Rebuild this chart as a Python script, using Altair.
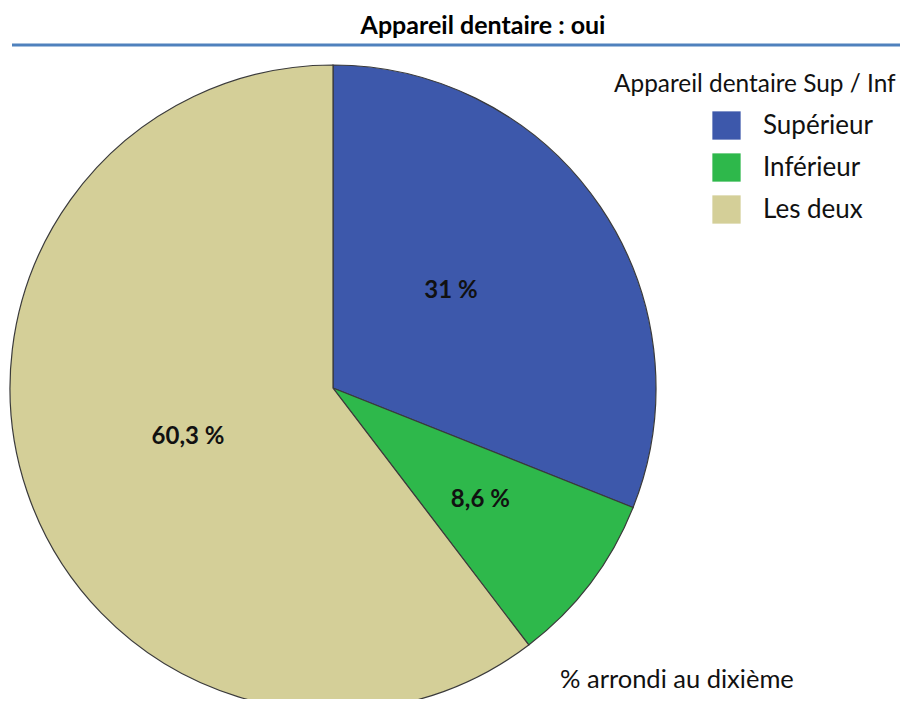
import altair as alt
import pandas as pd

categories = ["Supérieur", "Inférieur", "Les deux"]
values = [31.0, 8.6, 60.3]
labels = ["31 %", "8,6 %", "60,3 %"]
colors = ["#3D58AB", "#2EB84B", "#D4CF98"]
order_idx = [0, 1, 2]

title_text = "Appareil dentaire : oui"
legend_title = "Appareil dentaire Sup / Inf"
footnote = "% arrondi au dixième"

df = pd.DataFrame({"cat": categories, "value": values, "label": labels, "idx": order_idx})
one = pd.DataFrame({"k": [0]})
total = float(sum(values))

FONT = "Lato"
W, H = 892, 691
CX, CY, R = 325, 380, 323

base = alt.Chart(df)

arcs = base.mark_arc(stroke="#3a3a3a", strokeWidth=1.2, radius=R).encode(
    theta=alt.Theta("value:Q", stack=True, scale=alt.Scale(domain=[0, total])),
    order=alt.Order("idx:Q"),
    x=alt.value(CX),
    y=alt.value(CY),
    color=alt.Color(
        "cat:N",
        scale=alt.Scale(domain=categories, range=colors),
        sort=categories,
        legend=alt.Legend(
            title=None,
            orient="none",
            legendX=704,
            legendY=103,
            symbolType="square",
            symbolSize=800,
            symbolStrokeWidth=0,
            labelFontSize=26,
            labelFont=FONT,
            labelColor="#111111",
            labelOffset=22,
            rowPadding=13,
            padding=0,
        ),
    ),
)

texts = base.mark_text(font=FONT, fontSize=24, fontWeight="bold", color="#111111").transform_stack(
    stack="value", as_=["v0", "v1"], groupby=[], sort=[alt.SortField("idx", order="ascending")]
).transform_calculate(
    mid="(datum.v0 + datum.v1) / 2 - (datum.cat == 'Supérieur' ? 1.5 : 0)",
    lr="datum.cat == 'Inférieur' ? 185 : 153",
).encode(
    theta=alt.Theta("mid:Q", stack=None, scale=alt.Scale(domain=[0, total], range=[0, 6.283185307179586])),
    radius=alt.Radius("lr:Q", scale=None),
    x=alt.value(CX),
    y=alt.value(CY),
    text="label:N",
)

obase = alt.Chart(one)

line = obase.mark_rule(color="#4F81BD", strokeWidth=3).encode(
    x=alt.value(4), x2=alt.value(892), y=alt.value(37)
)

title_mark = obase.mark_text(font=FONT, fontSize=25, fontWeight="bold", color="#000000").encode(
    x=alt.value(475), y=alt.value(18), text=alt.value(title_text)
)

leg_title = obase.mark_text(font=FONT, fontSize=24.4, align="left", color="#111111").encode(
    x=alt.value(606), y=alt.value(77), text=alt.value(legend_title)
)

foot = obase.mark_text(font=FONT, fontSize=25.5, align="left", color="#111111").encode(
    x=alt.value(552), y=alt.value(672), text=alt.value(footnote)
)

chart = alt.layer(arcs, texts, line, title_mark, leg_title, foot).properties(
    width=W, height=H, padding=0, autosize=alt.AutoSizeParams(type="none")
).resolve_scale(theta="independent").configure_view(stroke=None)

chart.save("out.html", embed_options={"renderer": "svg", "actions": False})
